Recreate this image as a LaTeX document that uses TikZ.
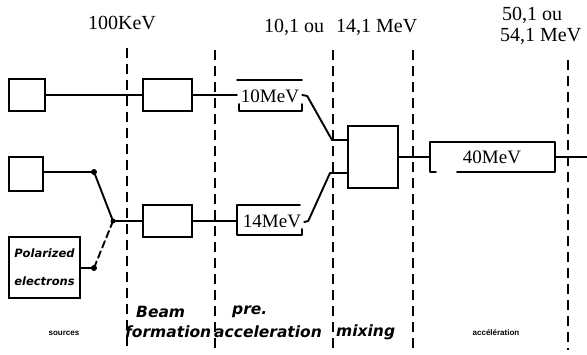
\documentclass[tikz,border=0pt]{standalone}
\usepackage{fontspec}
\setmainfont{Liberation Serif}
\newfontfamily\handfont{DejaVu Sans}
\newfontfamily\smallbold{Liberation Sans}
\begin{document}
\begin{tikzpicture}[x=1pt,y=-1pt,
  wire/.style={line width=1.9pt,line cap=round,line join=round},
  sep/.style={line width=1.9pt,dash pattern=on 10pt off 6pt},
  blk/.style={draw,line width=1.9pt,inner sep=0pt},
  toplab/.style={font=\fontsize{20}{22}\selectfont,inner sep=0pt},
  boxlab/.style={font=\fontsize{19}{20}\selectfont,inner sep=0pt},
  hand/.style={font=\handfont\bfseries\itshape\fontsize{15.5}{17}\selectfont,inner sep=0pt},
  tiny/.style={font=\smallbold\bfseries\fontsize{8}{9}\selectfont,inner sep=0pt},
  dot/.style={circle,fill,inner sep=0pt,minimum size=6pt}]
\useasboundingbox (0,0) rectangle (587,354);
% separators
\coordinate (s1t) at (127,48); \coordinate (s1b) at (127,350);
\coordinate (s2t) at (215,50); \coordinate (s2b) at (215,350);
\coordinate (s3t) at (333,50); \coordinate (s3b) at (333,350);
\coordinate (s4t) at (413,50); \coordinate (s4b) at (413,350);
\coordinate (s5t) at (568,60); \coordinate (s5b) at (568,350);
\foreach \i in {1,...,5} \draw[sep] (s\i t) -- (s\i b);
% top labels
\node[toplab] (k100) at (122,23) {100KeV};
\node[toplab,anchor=west] (mid) at (264,27) {10,1 ou\hspace{12pt}14,1 MeV};
\node[toplab,anchor=west] (t50) at (502,15) {50,1 ou};
\node[toplab,anchor=west] (t54) at (500,36) {54,1 MeV};
% blocks
\node[blk,minimum width=36pt,minimum height=32pt] (srcA) at (27,95) {};
\node[blk,minimum width=49pt,minimum height=32pt] (bfA) at (167.5,95) {};
\node[blk,minimum width=34pt,minimum height=34pt] (srcB) at (26,174) {};
\node[blk,minimum width=49pt,minimum height=32pt] (bfB) at (167.5,221) {};
\node[blk,minimum width=71pt,minimum height=61pt,align=left,font=\handfont\bfseries\itshape\fontsize{11.5}{28}\selectfont] (pol) at (44.5,267.5) {Polarized\\electrons};
\node[blk,minimum width=50pt,minimum height=62pt] (mix) at (373,157) {};
% 10 MeV
\node[boxlab] (m10) at (270,96) {10MeV};
\draw[wire] (237,80) -- (302,80);
\draw[wire] (239,104) -- (239,111) -- (302,111) -- (302,104);
% 14 MeV
\node[boxlab] (m14) at (272,221) {14MeV};
\draw[wire] (300,205) -- (237,205) -- (237,235) -- (302,235) -- (302,229);
% 40 MeV
\node[boxlab] (m40) at (492,157) {40MeV};
\draw[wire] (436,172) -- (430,172) -- (430,142) -- (555,142) -- (555,172) -- (457,172);
% dots
\node[dot] (d1) at (94,172) {};
\node[dot] (d2) at (94,268) {};
\node[dot,minimum size=5pt] (j) at (113,221) {};
% connections
\draw[wire] (srcA.east) -- (bfA.west);
\draw[wire] (bfA.east) -- (237,95);
\draw[wire] (srcB.east |- d1) -- (d1.center) -- (j.center);
\draw[wire] (pol.east |- d2) -- (d2.center);
\draw[wire,dash pattern=on 7pt off 4pt] (d2.center) -- (j.center);
\draw[wire] (j.center) -- (bfB.west);
\draw[wire] (bfB.east) -- (237,221);
\draw[wire] (m10.east) ++(3,-1) -- ++(5,1) -- (332,140) -- (mix.west |- 0,140);
\draw[wire] (m14.east) ++(3,1) -- ++(4,-1) -- (330,173) -- (mix.west |- 0,173);
\draw[wire] (mix.east) -- (430,157);
\draw[wire] (555,157) -- (587,157);
% bottom labels
\node[tiny] (lsrc) at (64,333) {sources};
\node[hand,anchor=west] (lbeam) at (136,312) {Beam};
\node[hand,anchor=west] (lform) at (125,332) {formation};
\node[hand,anchor=west] (lpre) at (232,312) {pre.};
\node[hand,anchor=west] (lacc) at (214,332) {acceleration};
\node[hand,anchor=west] (lmix) at (336,332) {mixing};
\node[tiny] (lacc2) at (496,333) {accélération};
\end{tikzpicture}
\end{document}
